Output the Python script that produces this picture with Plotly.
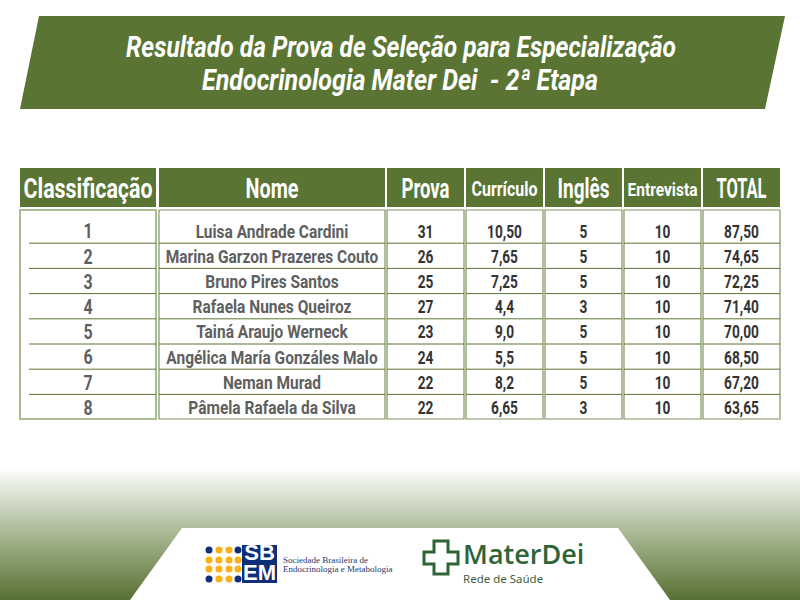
import json
import plotly.graph_objects as go

titulo = ['Resultado da Prova de Seleção para Especialização', 'Endocrinologia Mater Dei  - 2ª Etapa']
cabecalho = ['Classificação', 'Nome', 'Prova', 'Currículo', 'Inglês', 'Entrevista', 'TOTAL']
classificacao = ['1', '2', '3', '4', '5', '6', '7', '8']
nomes = ['Luisa Andrade Cardini', 'Marina Garzon Prazeres Couto', 'Bruno Pires Santos',
         'Rafaela Nunes Queiroz', 'Tainá Araujo Werneck', 'Angélica María Gonzáles Malo',
         'Neman Murad', 'Pâmela Rafaela da Silva']
prova = ['31', '26', '25', '27', '23', '24', '22', '22']
curriculo = ['10,50', '7,65', '7,25', '4,4', '9,0', '5,5', '8,2', '6,65']
ingles = ['5', '5', '5', '3', '5', '5', '5', '3']
entrevista = ['10', '10', '10', '10', '10', '10', '10', '10']
total = ['87,50', '74,65', '72,25', '71,40', '70,00', '68,50', '67,20', '63,65']

# layout in page pixels
VERDE = '#5a7533'
FONTE = 'Roboto'
colunas = [(20, 156), (159, 385), (387, 464), (466, 543), (545, 622), (624, 701), (703, 780)]
tam_cabecalho = [27, 27, 27, 20, 27, 18, 27]
cores_texto = ['#5f5f5f', '#5f5f5f', '#333333', '#333333', '#333333', '#333333', '#333333']
tam_texto = [21, 18, 18, 18, 18, 18, 18]
topo_corpo, base_corpo = 210, 419
altura_linha = 25.2
centro = [(a + b) / 2 for a, b in colunas]
linhas_y = [topo_corpo + 10.5 + altura_linha * (i + 0.5) for i in range(8)]

# larguras medidas na referencia: o texto e condensado ate caber nelas
larguras = {titulo[0]: 550, titulo[1]: 396, 'Classificação': 129, 'Nome': 53, 'Prova': 48,
            'Currículo': 66, 'Inglês': 52, 'Entrevista': 70, 'TOTAL': 50}
ESCALA = 0.76
ESCALA_NOMES = 0.86

fig = go.Figure()

# fundo degrade e trapezio branco do rodape
fig.add_trace(go.Scatter(x=[0, 800, 800, 0, 0], y=[467, 467, 600, 600, 467], mode='lines',
                         line=dict(width=0), fill='toself',
                         fillgradient=dict(type='vertical',
                                           colorscale=[[0, '#567031'], [0.5, '#a9b894'], [1, '#ffffff']])))
fig.add_trace(go.Scatter(x=[182, 618, 670, 130, 182], y=[528, 528, 600, 600, 528], mode='lines',
                         line=dict(width=0), fill='toself', fillcolor='white'))

# faixa do titulo
fig.add_shape(type='path', path='M 39 16 L 785 16 L 765 109 L 20 109 Z',
              fillcolor=VERDE, line_width=0, layer='below')
fig.add_trace(go.Scatter(x=[401, 400], y=[49, 82], mode='text', text=titulo,
                         textfont=dict(family=FONTE, size=30, color='white', weight='bold', style='italic')))

# cabecalho e caixas das colunas
for i, (a, b) in enumerate(colunas):
    fig.add_shape(type='rect', x0=a, x1=b, y0=168, y1=207, fillcolor=VERDE, line_width=0, layer='below')
    cor = '#a9bb92' if i == 0 else '#7f9660'
    fig.add_shape(type='rect', x0=a, x1=b, y0=topo_corpo, y1=base_corpo, fillcolor='white',
                  line=dict(color=cor, width=2 if i == 0 else 1.2), layer='below')
    inicio = a + 9 if i == 0 else a
    for k in range(1, 8):
        y = topo_corpo + 8 + altura_linha * k
        fig.add_shape(type='line', x0=inicio, x1=b, y0=y, y1=y, line=dict(color=VERDE, width=1), layer='below')

fig.add_trace(go.Scatter(x=centro, y=[191] * 7, mode='text', text=cabecalho,
                         textfont=dict(family=FONTE, size=tam_cabecalho, color='white', weight='bold')))

for i, valores in enumerate([classificacao, nomes, prova, curriculo, ingles, entrevista, total]):
    fig.add_trace(go.Scatter(x=[centro[i]] * 8, y=linhas_y, mode='text', text=valores,
                             textfont=dict(family=FONTE, size=tam_texto[i], color=cores_texto[i], weight='bold')))

# logo SBEM
pontos_x = [209, 219, 229, 238]
pontos_y = [550, 560, 569, 579]
xs, ys, cs = [], [], []
for lin, py in enumerate(pontos_y):
    for col, px in enumerate(pontos_x):
        xs.append(px)
        ys.append(py)
        azul = lin in (0, 3) and col in (0, 3)
        cs.append('#0f2f7a' if azul else '#fbb016')
fig.add_trace(go.Scatter(x=xs, y=ys, mode='markers', marker=dict(size=7, color=cs)))
fig.add_trace(go.Scatter(x=[242, 277, 277, 242, 242], y=[545, 545, 583, 583, 545], mode='lines',
                         line=dict(width=0), fill='toself', fillcolor='#0f2f7a'))
fig.add_trace(go.Scatter(x=[259.5, 259.5], y=[554, 574], mode='text', text=['SB', 'EM'],
                         textfont=dict(family='Liberation Sans', size=22, color='white', weight='bold')))
fig.add_trace(go.Scatter(x=[283, 283], y=[561, 570], mode='text', textposition='middle right',
                         text=['Sociedade Brasileira de', 'Endocrinologia e Metabologia'],
                         textfont=dict(family='Liberation Serif', size=9, color='#1f3565')))

# logo Mater Dei
fig.add_shape(type='path',
              path='M 434 541 L 448 541 L 448 552 L 458 552 L 458 564 L 448 564 L 448 574 L 434 574 '
                   'L 434 564 L 424 564 L 424 552 L 434 552 Z',
              fillcolor='white', line=dict(color='#2f6436', width=3))
fig.add_trace(go.Scatter(x=[463], y=[557], mode='text', textposition='middle right', text=['MaterDei'],
                         textfont=dict(family='Open Sans', size=27, color='#2f6436', weight=600)))
fig.add_trace(go.Scatter(x=[463], y=[580], mode='text', textposition='middle right', text=['Rede de Saúde'],
                         textfont=dict(family='Noto Sans', size=11.5, color='#3f5f45')))
fig.add_shape(type='rect', x0=455, x1=550, y0=584, y1=592, fillcolor='white', line_width=0)

fig.update_layout(width=800, height=600, margin=dict(l=0, r=0, t=0, b=0), showlegend=False,
                  plot_bgcolor='white', paper_bgcolor='white',
                  xaxis=dict(range=[0, 800], visible=False, fixedrange=True),
                  yaxis=dict(range=[600, 0], visible=False, fixedrange=True))

# nao ha fonte condensada instalada, entao aperta os textos Roboto com textLength
condensar = """
document.body.style.margin = '0';
var larguras = %s;
var nomes = %s;
document.querySelectorAll('.textpoint text').forEach(function (t) {
    if (t.style.fontFamily.indexOf('Roboto') < 0) { return; }
    var escala = nomes.indexOf(t.textContent) >= 0 ? %s : %s;
    var alvo = larguras[t.textContent] || t.getComputedTextLength() * escala;
    t.setAttribute('lengthAdjust', 'spacingAndGlyphs');
    t.setAttribute('textLength', alvo);
});
""" % (json.dumps(larguras), json.dumps(nomes), ESCALA_NOMES, ESCALA)

fig.write_html("out.html", post_script=condensar, config={'displayModeBar': False})
